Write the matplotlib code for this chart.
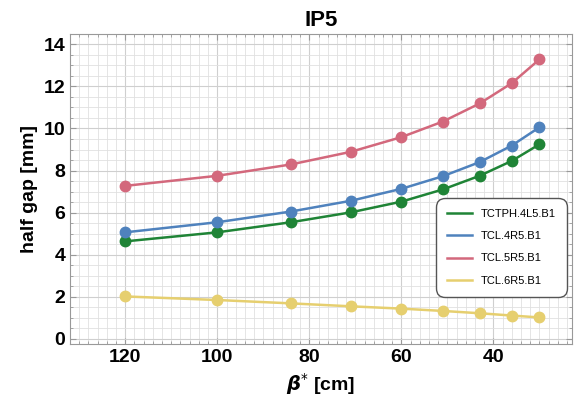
import matplotlib.pyplot as plt

plt.rcParams['font.family'] = ['Liberation Sans', 'DejaVu Sans']

beta = [120, 100, 84, 71, 60, 51, 43, 36, 30]
tctph_4l5 = [4.63, 5.06, 5.54, 6.01, 6.52, 7.10, 7.75, 8.46, 9.25]
tcl_4r5 = [5.06, 5.54, 6.05, 6.56, 7.13, 7.73, 8.40, 9.19, 10.06]
tcl_5r5 = [7.27, 7.75, 8.29, 8.89, 9.59, 10.33, 11.19, 12.16, 13.29]
tcl_6r5 = [2.01, 1.84, 1.68, 1.54, 1.43, 1.32, 1.21, 1.10, 1.01]

names = ["TCTPH.4L5.B1", "TCL.4R5.B1", "TCL.5R5.B1", "TCL.6R5.B1"]
colors = ["#1f8436", "#4f82bd", "#d3687c", "#e6cf6f"]

fig = plt.figure(figsize=(5.74, 3.99), dpi=100)
ax = fig.add_axes([0.122, 0.138, 0.874, 0.777])

for ys, name, c in zip([tctph_4l5, tcl_4r5, tcl_5r5, tcl_6r5], names, colors):
    ax.plot(beta, ys, color=c, lw=1.8, marker="o", ms=7.5, label=name)

ax.set_xlim(132, 23)
ax.set_ylim(-0.25, 14.5)
ax.set_xticks([120, 100, 80, 60, 40])
ax.set_xticks(range(130, 22, -2), minor=True)
ax.set_yticks(range(0, 15, 2))
ax.set_yticks([i * 0.5 for i in range(0, 29)], minor=True)
ax.grid(which="major", color="#cfcfcf", lw=0.8)
ax.grid(which="minor", color="#e0e0e0", lw=0.6)
ax.set_axisbelow(True)
ax.tick_params(which="both", direction="in", top=True, right=True, colors="#999999",
               labelcolor="black", labelsize=14)
ax.tick_params(which="minor", length=2)
ax.tick_params(which="major", length=4)
for lab in ax.get_xticklabels() + ax.get_yticklabels():
    lab.set_fontweight("bold")
for sp in ax.spines.values():
    sp.set_color("#999999")

ax.set_title("IP5", fontsize=16, fontweight="bold", pad=6)
ax.set_xlabel(r"$\boldsymbol{\beta}^{*}$ [cm]", fontsize=14, fontweight="bold")
ax.set_ylabel("half gap [mm]", fontsize=14, fontweight="bold")

leg = ax.legend(loc="lower right", bbox_to_anchor=(0.99, 0.152), borderaxespad=0,
                fontsize=8, handlelength=2.2, labelspacing=1.1, borderpad=1.0,
                fancybox=True, framealpha=1, edgecolor="#555555")
leg.get_frame().set_boxstyle("round", pad=0, rounding_size=0.8)
for h in leg.legend_handles:
    h.set_marker("")

fig.savefig("out.png", dpi=100)
